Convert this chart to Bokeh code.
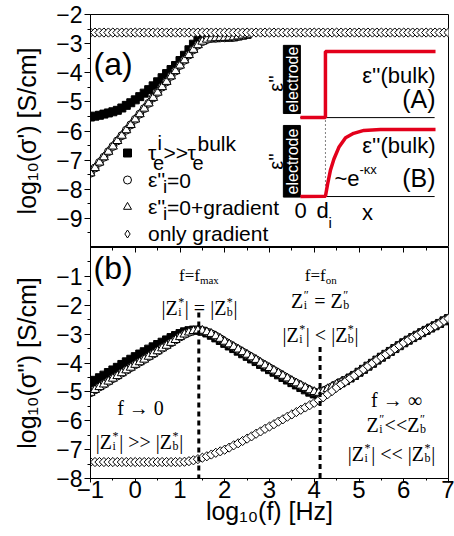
import numpy as np
from bokeh.plotting import figure
from bokeh.layouts import column
from bokeh.models import (Range1d, FixedTicker, LinearAxis, Legend, LegendItem, Label,
                          CustomLabelingPolicy)
from bokeh.embed import file_html
from bokeh.resources import INLINE

SANS = "Liberation Sans"
SERIF = "Liberation Serif"
RED = "#e3001b"

# ---------------- data ----------------
# frequency grid, log10(f / Hz)
log_f = [round(-1.0 + 0.1 * k, 1) for k in range(81)]
log_f_a = log_f[:36]          # -1.0 ... 2.5 (rest hidden under the bulk plateau)

# panel (a): log10(sigma') [S/cm]
sig1_tau = [-5.52, -5.49, -5.46, -5.42, -5.38, -5.34, -5.29, -5.21, -5.12, -5.03,
            -4.93, -4.82, -4.70, -4.58, -4.45, -4.31, -4.17, -4.03, -3.89, -3.75,
            -3.58, -3.40, -3.21, -3.02, -2.89, -2.83, -2.81, -2.80, -2.80, -2.79,
            -2.79, -2.78, -2.77, -2.74, -2.71, -2.68]
sig1_eps0 = [-7.45, -7.27, -7.08, -6.90, -6.71, -6.53, -6.34, -6.16, -5.97, -5.79,
             -5.60, -5.42, -5.23, -5.05, -4.86, -4.68, -4.49, -4.31, -4.12, -3.94,
             -3.75, -3.57, -3.39, -3.21, -3.05, -2.93, -2.86, -2.82, -2.81, -2.80,
             -2.80, -2.79, -2.78, -2.75, -2.72, -2.69]
sig1_eps0_grad = [-7.45, -7.27, -7.08, -6.90, -6.71, -6.53, -6.34, -6.16, -5.97, -5.79,
                  -5.60, -5.42, -5.23, -5.05, -4.86, -4.68, -4.49, -4.31, -4.12, -3.94,
                  -3.75, -3.57, -3.39, -3.21, -3.05, -2.93, -2.86, -2.82, -2.81, -2.80,
                  -2.80, -2.79, -2.78, -2.75, -2.72, -2.69]
sig1_grad = [-2.62, -2.62, -2.62, -2.62, -2.62, -2.62, -2.62, -2.62, -2.62, -2.62,
             -2.62, -2.62, -2.62, -2.62, -2.62, -2.62, -2.62, -2.62, -2.62, -2.62,
             -2.62, -2.62, -2.62, -2.62, -2.62, -2.62, -2.62, -2.62, -2.62, -2.62,
             -2.62, -2.62, -2.62, -2.62, -2.62, -2.62, -2.62, -2.62, -2.62, -2.62,
             -2.62, -2.62, -2.62, -2.62, -2.62, -2.62, -2.62, -2.62, -2.62, -2.62,
             -2.62, -2.62, -2.62, -2.62, -2.62, -2.62, -2.62, -2.62, -2.62, -2.62,
             -2.62, -2.62, -2.62, -2.62, -2.62, -2.62, -2.62, -2.62, -2.62, -2.62,
             -2.62, -2.62, -2.62, -2.62, -2.62, -2.62, -2.62, -2.62, -2.62, -2.62,
             -2.62]

# panel (b): log10(sigma'') [S/cm]
sig2_tau = [-4.69, -4.60, -4.51, -4.42, -4.33, -4.24, -4.15, -4.05, -3.96, -3.87,
            -3.78, -3.69, -3.61, -3.52, -3.44, -3.36, -3.28, -3.20, -3.12, -3.05,
            -2.98, -2.92, -2.88, -2.86, -2.87, -2.90, -2.96, -3.04, -3.13, -3.22,
            -3.32, -3.41, -3.50, -3.59, -3.68, -3.77, -3.86, -3.95, -4.05, -4.14,
            -4.23, -4.32, -4.41, -4.50, -4.59, -4.68, -4.76, -4.85, -4.93, -5.01,
            -5.07, -5.10, -5.06, -4.98, -4.88, -4.78, -4.69, -4.61, -4.52, -4.43,
            -4.32, -4.22, -4.11, -4.01, -3.90, -3.80, -3.70, -3.60, -3.50, -3.40,
            -3.30, -3.21, -3.12, -3.04, -2.95, -2.87, -2.79, -2.71, -2.63, -2.54,
            -2.46]
sig2_eps0 = [-5.03, -4.93, -4.83, -4.74, -4.64, -4.54, -4.45, -4.35, -4.25, -4.16,
             -4.06, -3.97, -3.88, -3.78, -3.69, -3.59, -3.49, -3.40, -3.30, -3.20,
             -3.10, -3.01, -2.94, -2.89, -2.87, -2.88, -2.93, -2.99, -3.07, -3.16,
             -3.26, -3.35, -3.44, -3.53, -3.62, -3.71, -3.80, -3.89, -3.99, -4.08,
             -4.17, -4.26, -4.35, -4.44, -4.53, -4.62, -4.70, -4.78, -4.86, -4.94,
             -5.00, -5.03, -4.98, -4.90, -4.82, -4.74, -4.67, -4.60, -4.51, -4.42,
             -4.32, -4.22, -4.11, -4.01, -3.90, -3.80, -3.70, -3.60, -3.50, -3.40,
             -3.30, -3.21, -3.12, -3.04, -2.95, -2.87, -2.79, -2.71, -2.63, -2.54,
             -2.46]
sig2_eps0_grad = [-5.03, -4.93, -4.83, -4.74, -4.64, -4.54, -4.45, -4.35, -4.25, -4.16,
                  -4.06, -3.97, -3.88, -3.78, -3.69, -3.59, -3.49, -3.40, -3.30, -3.20,
                  -3.10, -3.01, -2.94, -2.89, -2.87, -2.88, -2.93, -2.99, -3.07, -3.16,
                  -3.26, -3.35, -3.44, -3.53, -3.62, -3.71, -3.80, -3.89, -3.99, -4.08,
                  -4.17, -4.26, -4.35, -4.44, -4.53, -4.62, -4.70, -4.78, -4.86, -4.94,
                  -5.00, -5.03, -4.98, -4.90, -4.82, -4.74, -4.67, -4.60, -4.51, -4.42,
                  -4.32, -4.22, -4.11, -4.01, -3.90, -3.80, -3.70, -3.60, -3.50, -3.40,
                  -3.30, -3.21, -3.12, -3.04, -2.95, -2.87, -2.79, -2.71, -2.63, -2.54,
                  -2.46]
sig2_grad = [-7.43, -7.43, -7.43, -7.43, -7.43, -7.43, -7.43, -7.43, -7.43, -7.43,
             -7.43, -7.43, -7.43, -7.43, -7.43, -7.43, -7.43, -7.43, -7.43, -7.43,
             -7.43, -7.42, -7.40, -7.37, -7.33, -7.28, -7.23, -7.17, -7.11, -7.06,
             -7.00, -6.93, -6.85, -6.78, -6.70, -6.62, -6.54, -6.45, -6.37, -6.28,
             -6.20, -6.12, -6.03, -5.95, -5.86, -5.78, -5.70, -5.62, -5.54, -5.46,
             -5.38, -5.29, -5.19, -5.08, -4.97, -4.85, -4.74, -4.64, -4.53, -4.43,
             -4.32, -4.22, -4.11, -4.01, -3.90, -3.80, -3.70, -3.60, -3.50, -3.40,
             -3.30, -3.21, -3.12, -3.04, -2.95, -2.87, -2.79, -2.71, -2.63, -2.54,
             -2.46]

# characteristic frequencies (log10 f) marked by dotted lines, and their top ends
f_marks = [1.42, 4.13]
f_marks_top = [-2.25, -3.45]

# axis ticks
x_major = [-1, 0, 1, 2, 3, 4, 5, 6, 7]
x_minor = [-0.5, 0.5, 1.5, 2.5, 3.5, 4.5, 5.5, 6.5]
y1_major = [-9, -8, -7, -6, -5, -4, -3, -2]
y1_minor = [-9.5, -8.5, -7.5, -6.5, -5.5, -4.5, -3.5, -2.5]
y2_major = [-8, -7, -6, -5, -4, -3, -2, -1]
y2_minor = [-7.5, -6.5, -5.5, -4.5, -3.5, -2.5, -1.5, -0.5]

# inset sketch (drawn in panel (a) data coordinates)
inset_A_x = [3.69, 4.25, 4.25, 6.71]
inset_A_y = [-5.54, -5.54, -3.27, -3.27]
inset_B_x = [3.69, 4.25, 4.30, 4.36, 4.44, 4.55, 4.70, 4.88, 5.11, 5.48, 6.71]
inset_B_y = [-8.25, -8.24, -7.81, -7.36, -6.96, -6.56, -6.23, -6.08, -5.98, -5.95, -5.95]
inset_base_y = [-5.54, -8.25]
inset_box_bottom = [-5.40, -8.27]
inset_box_top = [-3.06, -5.81]

# ---------------- geometry helpers (px -> data) ----------------
def top_xy(px, py):
    return (-1 + (px - 90) * 8 / 358, -2 - (py - 14) * 8 / 233)


def bot_xy(px, py):
    return (-1 + (px - 90) * 8 / 358, -(py - 247) * 8 / 231)


def lab(fig, xy, text, size, font=SANS, align="left", baseline="middle",
        color="black", angle=0.0):
    x, y = xy
    fig.add_layout(Label(x=x, y=y, text=text, text_font=font,
                         text_font_size=f"{size}px", text_align=align,
                         text_baseline=baseline, text_color=color, angle=angle))


TW = {'|': 0.2, 'Z': 0.611, 'i': 0.278, 'b': 0.5, '*': 0.5, '=': 0.564, '<': 0.564,
      '>': 0.564, ' ': 0.25, 'f': 0.333, 'm': 0.778, 'a': 0.444, 'x': 0.5, 'o': 0.5,
      'n': 0.5, '→': 1.0, '0': 0.5, '∞': 0.713, '″': 0.4}


def tw(s, size):
    return sum(TW.get(c, 0.5) for c in s) * size


def rich(fig, cx, base, parts, size):
    small = size * 0.62
    widths = []
    for part in parts:
        if part[0] == "n":
            widths.append(tw(part[1], size))
        elif part[0] == "ss":
            widths.append(max(tw(part[1], small), tw(part[2], small)) + 1)
        else:
            widths.append(tw(part[1], small))
    x = cx - sum(widths) / 2
    for part, w in zip(parts, widths):
        if part[0] == "n":
            txt = part[1]
            lead = len(txt) - len(txt.lstrip(" "))
            lab(fig, bot_xy(x + lead * TW[' '] * size, base), txt.strip(" "), size, SERIF,
                baseline="alphabetic")
        elif part[0] == "ss":
            lab(fig, bot_xy(x + 0.5, base - 0.30 * size), part[1], round(small), SERIF,
                baseline="alphabetic")
            lab(fig, bot_xy(x + 0.5, base + 0.22 * size), part[2], round(small), SERIF,
                baseline="alphabetic")
        else:
            lab(fig, bot_xy(x, base + 0.25 * size), part[1], round(small), SERIF,
                baseline="alphabetic")
        x += w


def style_axis(ax, size):
    ax.axis_line_color = "black"
    ax.major_tick_line_color = "black"
    ax.minor_tick_line_color = "black"
    ax.major_tick_out = 6
    ax.major_tick_in = 0
    ax.minor_tick_out = 3
    ax.minor_tick_in = 0
    ax.major_label_text_font = SANS
    ax.major_label_text_font_size = f"{size}px"
    ax.major_label_text_color = "black"
    ax.axis_label_text_font = SANS
    ax.axis_label_text_font_size = "25px"
    ax.axis_label_text_font_style = "normal"
    ax.axis_label_text_color = "black"


# ---------------- panel (a) ----------------
p1 = figure(width=454, height=247, x_range=Range1d(-1, 7), y_range=Range1d(-10, -2),
            output_backend="svg", toolbar_location=None,
            min_border_left=90, min_border_right=6, min_border_top=14, min_border_bottom=0)
p1.xaxis.visible = False
p1.grid.visible = False
p1.outline_line_color = "black"
p1.outline_line_alpha = 1.0
p1.background_fill_color = "white"
p1.border_fill_color = "white"
style_axis(p1.yaxis[0], 23)
p1.yaxis.ticker = FixedTicker(ticks=y1_major, minor_ticks=y1_minor)
p1.yaxis.axis_label = "log₁₀(σ') [S/cm]"
p1.yaxis.major_label_standoff = 2
p1.yaxis.axis_label_standoff = 12

r_sq = p1.scatter(log_f_a, sig1_tau, marker="square", size=8, fill_color="black",
                  line_color="black")
r_ci = p1.scatter(log_f_a, sig1_eps0, marker="circle", size=8, fill_color="white",
                  line_color="black")
r_tr = p1.scatter(log_f_a, sig1_eps0_grad, marker="triangle", size=9, fill_color="white",
                  line_color="black")
p1.scatter(log_f, sig1_grad, marker="square", angle=np.pi / 4, size=6.5,
           fill_color="white", line_color="black")
# legend key for the diamond series (not drawn in the plot itself)
r_di_key = p1.scatter(log_f[:1], sig1_grad[:1], marker="diamond", size=10,
                      fill_color="white", line_color="black", visible=False)

# inset
p1.quad(left=[3.31, 3.31], right=[3.69, 3.69], bottom=inset_box_bottom, top=inset_box_top,
        fill_color="black", line_color="black")
p1.segment(x0=[3.69, 3.69], y0=inset_base_y, x1=[6.69, 6.69], y1=inset_base_y,
           line_color="black", line_width=1)
p1.segment(x0=[4.25], y0=[-5.64], x1=[4.25], y1=[-8.28], line_color="black",
           line_width=1, line_dash="1 3")
p1.line(inset_A_x, inset_A_y, line_color=RED, line_width=3.5)
p1.line(inset_B_x, inset_B_y, line_color=RED, line_width=3.5)

lab(p1, top_xy(292, 79), "electrode", 16, align="center", color="white", angle=np.pi / 2)
lab(p1, top_xy(292, 161), "electrode", 16, align="center", color="white", angle=np.pi / 2)
lab(p1, top_xy(275, 83), "ε''", 20, align="center", angle=np.pi / 2)
lab(p1, top_xy(275, 161), "ε''", 20, align="center", angle=np.pi / 2)
lab(p1, top_xy(435, 75), "ε''(bulk)", 22, align="right")
lab(p1, top_xy(435, 98), "(A)", 25, align="right")
lab(p1, top_xy(435, 145), "ε''(bulk)", 22, align="right")
lab(p1, top_xy(435, 177), "(B)", 25, align="right")
lab(p1, top_xy(334, 178), "~e", 22)
lab(p1, top_xy(359, 169), "-κx", 13)
lab(p1, top_xy(300, 210), "0", 22, align="center")
lab(p1, top_xy(322, 210), "d", 22, align="center")
lab(p1, top_xy(328, 222), "i", 15)
lab(p1, top_xy(367, 212), "x", 22, align="center")

lab(p1, top_xy(93, 63), "(a)", 32)

# legend (markers + main texts via Legend, sub/superscripts as labels)
legend = Legend(items=[LegendItem(label="τ", renderers=[r_sq]),
                       LegendItem(label="ε''", renderers=[r_ci]),
                       LegendItem(label="ε''", renderers=[r_tr]),
                       LegendItem(label="only gradient", renderers=[r_di_key])],
                location=(27, 0), glyph_width=20, glyph_height=27, label_height=27,
                label_standoff=11, spacing=0, padding=0, margin=0, border_line_alpha=0,
                background_fill_alpha=0, label_text_font=SANS, label_text_font_size="21px",
                label_text_color="black", click_policy="none")
p1.add_layout(legend, "center")

lab(p1, top_xy(157, 142.5), "i", 20)
lab(p1, top_xy(152.5, 162.5), "e", 20)
lab(p1, top_xy(163, 152), ">>", 21)
lab(p1, top_xy(187, 152), "τ", 21)
lab(p1, top_xy(192, 162.5), "e", 20)
lab(p1, top_xy(197, 142.5), "bulk", 21)
for py, rest in [(179.5, "=0"), (206.5, "=0+gradient")]:
    lab(p1, top_xy(162.5, py + 6), "i", 19)
    lab(p1, top_xy(166.5, py), rest, 21)

# ---------------- panel (b) ----------------
p2 = figure(width=454, height=289, x_range=p1.x_range, y_range=Range1d(-8, 0),
            output_backend="svg", toolbar_location=None,
            min_border_left=90, min_border_right=6, min_border_top=0, min_border_bottom=58)
p2.grid.visible = False
p2.outline_line_color = "black"
p2.background_fill_color = "white"
p2.border_fill_color = "white"
style_axis(p2.yaxis[0], 23)
p2.yaxis.ticker = FixedTicker(ticks=y2_major, minor_ticks=y2_minor)
p2.yaxis.axis_label = "log₁₀(σ'') [S/cm]"
p2.yaxis.major_label_standoff = 2
p2.yaxis.axis_label_standoff = 12
style_axis(p2.xaxis[0], 24)
p2.xaxis.major_tick_out = 4
p2.xaxis.minor_tick_out = 2
p2.xaxis.ticker = FixedTicker(ticks=x_major, minor_ticks=x_minor)
p2.xaxis.axis_label = "log₁₀(f) [Hz]"
p2.xaxis.major_label_standoff = -2
p2.xaxis.axis_label_standoff = -4

top_ax = LinearAxis(ticker=FixedTicker(ticks=x_major, minor_ticks=x_minor),
                    major_tick_in=5, major_tick_out=0, minor_tick_in=3, minor_tick_out=0,
                    major_label_text_font_size="0px", major_label_standoff=0,
                    major_label_policy=CustomLabelingPolicy(
                        code="for (const i of indices) { indices.unset(i) } return indices"),
                    axis_line_color="black", major_tick_line_color="black",
                    minor_tick_line_color="black")
p2.add_layout(top_ax, "above")

p2.scatter(log_f, sig2_tau, marker="square", size=8, fill_color="black", line_color="black")
p2.scatter(log_f, sig2_eps0, marker="circle", size=8, fill_color="white", line_color="black")
p2.scatter(log_f, sig2_eps0_grad, marker="triangle", size=9, fill_color="white",
           line_color="black")
p2.scatter(log_f, sig2_grad, marker="square", angle=np.pi / 4, size=6.5, fill_color="white",
           line_color="black")
p2.segment(x0=f_marks, y0=f_marks_top, x1=f_marks, y1=[-8, -8], line_color="black",
           line_width=3, line_dash="5 4")

lab(p2, bot_xy(93, 267), "(b)", 32)

rich(p2, 198, 275, [("n", "f=f"), ("sub", "max")], 17)
rich(p2, 199, 307, [("n", "|Z"), ("ss", "*", "i"), ("n", "| = |Z"), ("ss", "*", "b"),
                    ("n", "|")], 20)
rich(p2, 320, 275, [("n", "f=f"), ("sub", "on")], 17)
rich(p2, 320, 300, [("n", "Z"), ("ss", "″", "i"), ("n", " = Z"), ("ss", "″", "b")], 20)
rich(p2, 320, 334, [("n", "|Z"), ("ss", "*", "i"), ("n", "| < |Z"), ("ss", "*", "b"),
                    ("n", "|")], 20)
rich(p2, 140, 407, [("n", "f → 0")], 20)
rich(p2, 139, 441, [("n", "|Z"), ("ss", "*", "i"), ("n", "| >> |Z"), ("ss", "*", "b"),
                    ("n", "|")], 20)
rich(p2, 396, 399, [("n", "f → ∞")], 20)
rich(p2, 396, 424, [("n", "Z"), ("ss", "″", "i"), ("n", "<<Z"), ("ss", "″", "b")], 20)
rich(p2, 391, 453, [("n", "|Z"), ("ss", "*", "i"), ("n", "| << |Z"), ("ss", "*", "b"),
                    ("n", "|")], 20)

layout = column(p1, p2, spacing=0)
open("out.html", "w").write(file_html(layout, INLINE))
